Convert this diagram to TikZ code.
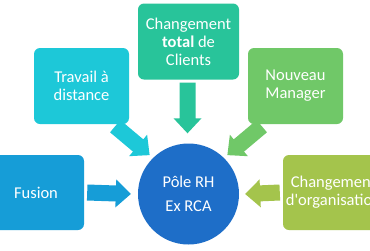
\documentclass[tikz,border=0pt]{standalone}
\usepackage{fontspec}
\setmainfont{Carlito}[Ligatures=TeXOff]
\usetikzlibrary{calc}
\definecolor{cTop}{HTML}{28C49A}
\definecolor{cTrav}{HTML}{1DC8D8}
\definecolor{cNouv}{HTML}{70C868}
\definecolor{cFus}{HTML}{169DD7}
\definecolor{cChg}{HTML}{A4C44C}
\definecolor{cPole}{HTML}{1E6EC8}
\newcommand\blockarr[3]{%
  \coordinate (ba) at (#2);
  \coordinate (bt) at (#3);
  \coordinate (bh) at ($(bt)!15pt!(ba)$);
  \fill[#1] ($(ba)!8pt!90:(bt)$) -- ($(bh)!8pt!90:(bt)$) -- ($(bh)!14pt!90:(bt)$)
    -- (bt) -- ($(bh)!14pt!-90:(bt)$) -- ($(bh)!8pt!-90:(bt)$) -- ($(ba)!8pt!-90:(bt)$) -- cycle;
}
\begin{document}
\begin{tikzpicture}[x=1pt,y=-1pt,
  box/.style={rectangle,rounded corners=6pt,inner sep=0pt,text=white,align=center,
    font=\fontsize{16.5}{18}\selectfont},
  hub/.style={circle,inner sep=0pt,minimum size=101pt,fill=cPole,text=white,align=center,
    font=\fontsize{16.5}{24}\selectfont}]
\useasboundingbox (0,0) rectangle (370,250);
\fill[white] (0,0) rectangle (370,250);
\clip (0,0) rectangle (370,250);
\node[hub] (pole) at (188.5,194) {Pôle RH\\Ex RCA};
\node[box,fill=cTop,minimum width=101pt,minimum height=76pt] (top) at (188.5,41.5) {Changement\\\textbf{total} de\\Clients};
\node[box,fill=cTrav,minimum width=95pt,minimum height=76pt] (trav) at (81.5,86) {Travail à\\distance};
\node[box,fill=cNouv,minimum width=95pt,minimum height=76pt] (nouv) at (295.5,86) {Nouveau\\Manager};
\node[box,fill=cFus,minimum width=96pt,minimum height=75pt] (fus) at (36,192.5) {Fusion};
\node[box,fill=cChg,minimum width=101pt,minimum height=75pt] (chg) at (333.5,192.5) {Changement\\d'organisation};
\blockarr{cTop}{$(top.south)+(-1,3)$}{$(pole.north)+(-1,-10)$}
\blockarr{cTrav}{$(trav.south east)+(-14,2)$}{$(pole)+(225:55)$}
\blockarr{cNouv}{$(nouv.south west)+(14,2)$}{$(pole)+(-45:55)$}
\blockarr{cFus}{$(fus.east)+(3,0)$}{$(pole.west)+(-7,0)$}
\blockarr{cChg}{$(chg.west)+(-3,0)$}{$(pole.east)+(6,0)$}
\end{tikzpicture}
\end{document}
